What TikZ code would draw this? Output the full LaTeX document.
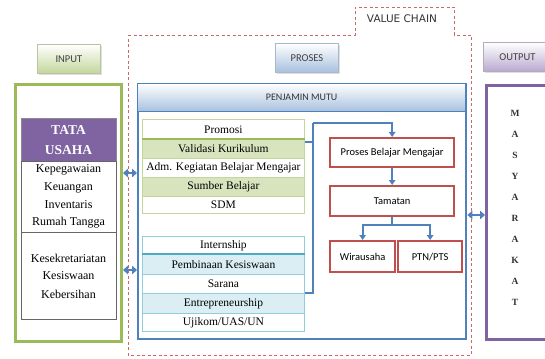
\documentclass[tikz,border=0pt]{standalone}
\usepackage{fontspec}
\setmainfont{Liberation Serif}
\newfontfamily\calib{Carlito}
\newfontfamily\vcfont{DejaVu Sans}
\usetikzlibrary{arrows.meta,shadows,calc}
\definecolor{grn}{HTML}{9BBB59}
\definecolor{grnl}{HTML}{C3D69B}
\definecolor{grnf}{HTML}{D7E4BD}
\definecolor{grnb}{HTML}{C3D69B}
\definecolor{blu}{HTML}{4F81BD}
\definecolor{blul}{HTML}{92CDDC}
\definecolor{bluf}{HTML}{DAEEF3}
\definecolor{blud}{HTML}{4BACC6}
\definecolor{redb}{HTML}{C0504D}
\definecolor{pur}{HTML}{8064A2}
\definecolor{purl}{HTML}{B9A9CF}
\definecolor{bluhead}{HTML}{A7C0DE}
\begin{document}
\begin{tikzpicture}[x=1pt,y=-1pt,
  mybox/.style={rectangle,inner sep=0pt,anchor=north west},
  mybutton/.style={mybox,draw=#1!80!black!70,line width=0.8pt,font=\calib\fontsize{10.5}{12}\selectfont,text=black!75,
     top color=white,bottom color=#1,drop shadow={opacity=0.25,shadow xshift=1.2pt,shadow yshift=-1.2pt}},
  gtab/.style={mybox,draw=grnl,line width=0.8pt,minimum width=162pt,font=\fontsize{11.5}{13}\selectfont},
  btab/.style={mybox,draw=blul,line width=0.8pt,minimum width=162pt,font=\fontsize{11.5}{13}\selectfont},
  redbox/.style={mybox,draw=redb,line width=2.3pt,fill=white,font=\calib\fontsize{10.5}{12}\selectfont},
  flowarrow/.style={draw=blu,line width=1.8pt,-{Triangle[length=5pt,width=6.5pt]}},
  flowline/.style={draw=blu,line width=1.8pt},
  dblarrow/.style={draw=blu,line width=2.6pt,{Triangle[length=5pt,width=8.5pt]}-{Triangle[length=5pt,width=8.5pt]}},
  tutext/.style={font=\fontsize{12}{14}\selectfont},
  lettertext/.style={font=\bfseries\fontsize{9.5}{11}\selectfont,text=black!80}
]
\clip (0,0) rectangle (545,358);
\fill[white] (0,0) rectangle (545,358);

% value chain dashed outline
\draw[redb!85,line width=0.9pt,dash pattern=on 3pt off 2.5pt]
  (128,35) -- (355,35) -- (355,7) -- (454,7) -- (454,35) -- (471,35) -- (471,355) -- (128,355) -- cycle;
\node[font=\vcfont\fontsize{10.5}{12}\selectfont,text=black!80] (vc) at (402,18.5) {VALUE CHAIN};

% buttons
\node[mybutton=grnb,minimum width=63pt,minimum height=29pt] (input) at (37,44) {INPUT};
\node[mybutton=bluhead,minimum width=63pt,minimum height=29pt] (proses) at (275,43) {PROSES};
\node[mybutton=purl,minimum width=68pt,minimum height=29pt] (output) at (483,42) {OUTPUT};

% input green box
\node[mybox,draw=grn,line width=3pt,minimum width=106pt,minimum height=257pt] (inbox) at (14,83) {};
\node[mybox,fill=pur,draw=black!45,line width=0.6pt,minimum width=95pt,minimum height=43pt] (tuhead) at (21,118) {};
\node[text=white,font=\bfseries\fontsize{13.5}{15}\selectfont] at (68.5,130) {TATA};
\node[text=white,font=\bfseries\fontsize{13.5}{15}\selectfont] at (68.5,150) {USAHA};
\node[mybox,draw=black!60,line width=0.8pt,minimum width=95pt,minimum height=71pt] (tu1) at (21,161) {};
\node[mybox,draw=black!60,line width=0.8pt,minimum width=95pt,minimum height=87pt] (tu2) at (21,232) {};
\node[tutext] at (68.5,170) {Kepegawaian};
\node[tutext] at (68.5,187.5) {Keuangan};
\node[tutext] at (68.5,205) {Inventaris};
\node[tutext] at (68.5,222.5) {Rumah Tangga};
\node[tutext] at (68.5,258) {Kesekretariatan};
\node[tutext] at (68.5,276) {Kesiswaan};
\node[tutext] at (68.5,294) {Kebersihan};

% blue process box
\node[mybox,draw=blu,line width=2.4pt,minimum width=328pt,minimum height=255pt] (pbox) at (137,83) {};
\node[mybox,top color=white,bottom color=bluhead,draw=blu,line width=1.2pt,minimum width=328pt,minimum height=28pt,
  font=\calib\fontsize{10}{12}\selectfont,text=black!80] (pm) at (137,83) {PENJAMIN MUTU};

% green table
\node[gtab,fill=white,minimum height=20pt] (r1) at (142,119) {Promosi};
\node[gtab,fill=grnf,minimum height=19pt] (r2) at (142,139) {Validasi Kurikulum};
\node[gtab,fill=white,minimum height=19pt] (r3) at (142,158) {Adm. Kegiatan Belajar Mengajar};
\node[gtab,fill=grnf,minimum height=19pt] (r4) at (142,177) {Sumber Belajar};
\node[gtab,fill=white,minimum height=17pt] (r5) at (142,196) {SDM};
\draw[grn,line width=1.8pt] (r2.north west) -- (r2.north east);

% blue table
\node[btab,fill=white,minimum height=18pt] (b1) at (142,236) {Internship};
\node[btab,fill=bluf,minimum height=20pt] (b2) at (142,254) {Pembinaan Kesiswaan};
\node[btab,fill=white,minimum height=19pt] (b3) at (142,274) {Sarana};
\node[btab,fill=bluf,minimum height=20pt] (b4) at (142,293) {Entrepreneurship};
\node[btab,fill=white,minimum height=18pt] (b5) at (142,313) {Ujikom/UAS/UN};
\draw[blud,line width=1.8pt] (b2.north west) -- (b2.north east);

% red boxes
\node[redbox,minimum width=124pt,minimum height=29pt] (pbm) at (329,137) {Proses Belajar Mengajar};
\node[redbox,minimum width=124pt,minimum height=30pt] (tam) at (329,185) {Tamatan};
\node[redbox,minimum width=65pt,minimum height=31pt] (wir) at (329,240) {Wirausaha};
\node[redbox,minimum width=64pt,minimum height=31pt] (ptn) at (397,240) {PTN/PTS};

% connectors
\coordinate (jx) at (313,123);
\draw[flowline] (r2.east |- 0,142) -- (313,142);
\draw[flowline] (b4.north east) -- (313,293) -- (jx);
\draw[flowarrow] (jx) -- (pbm.north |- jx) -- (pbm.north);
\draw[flowarrow] (pbm.south) -- (tam.north);
\coordinate (sp) at ($(tam.south)+(0,8)$);
\draw[flowline] (tam.south) -- (sp);
\draw[flowarrow] (sp) -| (wir.north);
\draw[flowarrow] (sp) -| (ptn.north);

% output purple box
\node[mybox,draw=pur,line width=3pt,minimum width=75pt,minimum height=254pt] (outbox) at (485,84) {};
\foreach \l [count=\i from 0] in {M,A,S,Y,A,R,A,K,A,T}
  \node[lettertext] (l\i) at (515,113+21*\i) {\l};

% double arrows
\draw[dblarrow] (inbox.east |- 0,173) -- (pbox.west |- 0,173);
\draw[dblarrow] (inbox.east |- 0,270) -- (pbox.west |- 0,270);
\draw[dblarrow] (pbox.east |- 0,215) -- (outbox.west |- 0,215);
\end{tikzpicture}
\end{document}
